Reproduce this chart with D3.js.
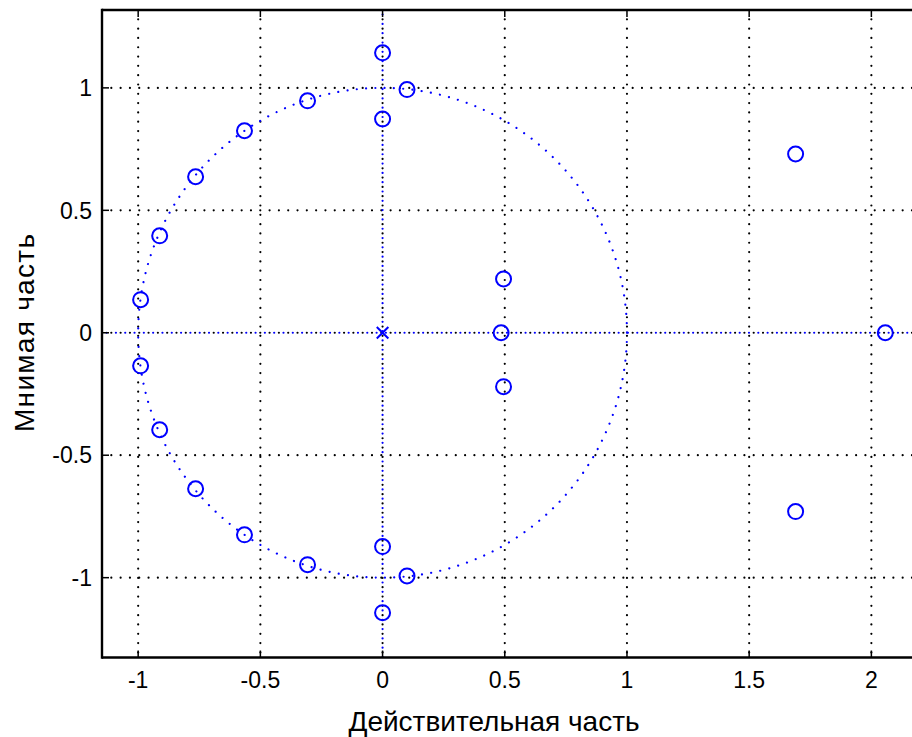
<!DOCTYPE html>
<html>
<head>
<meta charset="utf-8">
<script src="https://cdn.jsdelivr.net/npm/d3@7"></script>
<style>
  body { margin: 0; background: #fff; }
  text { font-family: "Liberation Sans", Arial, Helvetica, sans-serif; fill: #000; }
</style>
</head>
<body>
<svg id="chart" width="912" height="737"></svg>
<script>
// zeros (o) and poles (x)
const zerosRe = [0, 0.1, 0, -0.307, -0.565, -0.765, -0.912, -0.99,
                 -0.99, -0.912, -0.765, -0.565, -0.307, 0, 0.1, 0,
                 0.495, 0.485, 0.495, 1.69, 1.69, 2.057];
const zerosIm = [1.143, 0.993, 0.873, 0.947, 0.825, 0.637, 0.396, 0.135,
                 -0.135, -0.396, -0.637, -0.825, -0.947, -0.873, -0.993, -1.143,
                 0.22, 0, -0.22, 0.73, -0.73, 0];
const polesRe = [0];
const polesIm = [0];
const xTicks = [-1, -0.5, 0, 0.5, 1, 1.5, 2];
const yTicks = [-1, -0.5, 0, 0.5, 1];
const xLabel = "Действительная часть";
const yLabel = "Мнимая часть";

const svg = d3.select("#chart");
const mLeft = 102, mTop = 10, mBottom = 657.5;

const x = d3.scaleLinear().domain([-1.148, 2.2]).range([mLeft, mLeft + 3.348 * 244.4]);
const y = d3.scaleLinear().domain([-1.326, 1.318]).range([mBottom, mTop]);
const mRight = x.range()[1];

const blue = "#0000ff";
const dots = "0.01 9.3";

const plot = svg.append("g");

// black dotted grid
plot.selectAll(".gx").data(xTicks).enter().append("line")
  .attr("x1", d => x(d)).attr("x2", d => x(d))
  .attr("y1", mTop).attr("y2", mBottom)
  .attr("stroke", "#000").attr("stroke-width", 2.2)
  .attr("stroke-linecap", "round").attr("stroke-dasharray", dots);
plot.selectAll(".gy").data(yTicks).enter().append("line")
  .attr("x1", mLeft).attr("x2", mRight)
  .attr("y1", d => y(d)).attr("y2", d => y(d))
  .attr("stroke", "#000").attr("stroke-width", 2.2)
  .attr("stroke-linecap", "round").attr("stroke-dasharray", dots);

// blue dotted real / imaginary axes and unit circle
plot.append("line")
  .attr("x1", mLeft).attr("x2", mRight).attr("y1", y(0)).attr("y2", y(0))
  .attr("stroke", blue).attr("stroke-width", 2.2)
  .attr("stroke-linecap", "round").attr("stroke-dasharray", dots)
  .attr("stroke-dashoffset", -4.6);
plot.append("line")
  .attr("x1", x(0)).attr("x2", x(0)).attr("y1", mTop).attr("y2", mBottom)
  .attr("stroke", blue).attr("stroke-width", 2.2)
  .attr("stroke-linecap", "round").attr("stroke-dasharray", dots)
  .attr("stroke-dashoffset", -4.6);
plot.append("ellipse")
  .attr("cx", x(0)).attr("cy", y(0))
  .attr("rx", x(1) - x(0)).attr("ry", y(0) - y(1))
  .attr("fill", "none").attr("stroke", blue).attr("stroke-width", 2.2)
  .attr("stroke-linecap", "round").attr("stroke-dasharray", dots);

// zeros
plot.selectAll(".zero").data(zerosRe).enter().append("circle")
  .attr("cx", d => x(d)).attr("cy", (d, i) => y(zerosIm[i]))
  .attr("r", 7.5).attr("fill", "none")
  .attr("stroke", blue).attr("stroke-width", 2);

// poles
const s = 5.8;
polesRe.forEach((re, i) => {
  const px = x(re), py = y(polesIm[i]);
  plot.append("path")
    .attr("d", `M${px - s},${py - s}L${px + s},${py + s}M${px - s},${py + s}L${px + s},${py - s}`)
    .attr("stroke", blue).attr("stroke-width", 2).attr("fill", "none");
});

// axes box lines and inward ticks
const axes = svg.append("g");
axes.append("line").attr("x1", mLeft).attr("x2", mRight).attr("y1", mTop).attr("y2", mTop)
  .attr("stroke", "#000").attr("stroke-width", 2.4);
axes.append("line").attr("x1", mLeft).attr("x2", mRight).attr("y1", mBottom).attr("y2", mBottom)
  .attr("stroke", "#000").attr("stroke-width", 2.4);
axes.append("line").attr("x1", mLeft).attr("x2", mLeft).attr("y1", mTop - 1.2).attr("y2", mBottom + 1.2)
  .attr("stroke", "#000").attr("stroke-width", 2.4);

const tl = 7;
xTicks.forEach(t => {
  axes.append("line").attr("x1", x(t)).attr("x2", x(t)).attr("y1", mBottom).attr("y2", mBottom - tl)
    .attr("stroke", "#000").attr("stroke-width", 1.5);
  axes.append("line").attr("x1", x(t)).attr("x2", x(t)).attr("y1", mTop).attr("y2", mTop + tl)
    .attr("stroke", "#000").attr("stroke-width", 1.5);
});
yTicks.forEach(t => {
  axes.append("line").attr("x1", mLeft).attr("x2", mLeft + tl).attr("y1", y(t)).attr("y2", y(t))
    .attr("stroke", "#000").attr("stroke-width", 1.5);
});

// tick labels
const fmt = d => String(d);
axes.selectAll(".xl").data(xTicks).enter().append("text")
  .attr("x", d => x(d)).attr("y", 688)
  .attr("text-anchor", "middle").style("font-size", "23px")
  .text(fmt);
axes.selectAll(".yl").data(yTicks).enter().append("text")
  .attr("x", 92).attr("y", d => y(d))
  .attr("dy", "0.36em")
  .attr("text-anchor", "end").style("font-size", "23px")
  .text(fmt);

// axis titles
svg.append("text")
  .attr("x", 494).attr("y", 731)
  .attr("text-anchor", "middle").style("font-size", "28px")
  .text(xLabel);
svg.append("text")
  .attr("transform", "translate(34,333) rotate(-90)")
  .attr("text-anchor", "middle").style("font-size", "28px")
  .attr("textLength", 198).attr("lengthAdjust", "spacing")
  .text(yLabel);
</script>
</body>
</html>
